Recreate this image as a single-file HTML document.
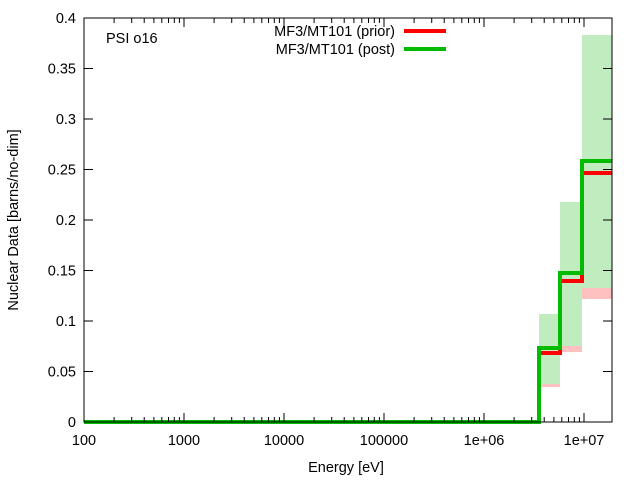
<!DOCTYPE html>
<html><head><style>body{margin:0;background:#fff}svg{display:block}text{font-family:"Liberation Sans",sans-serif;font-size:13px;fill:#000}.b{font-size:14.5px}</style></head><body>
<svg width="640" height="480" xmlns="http://www.w3.org/2000/svg">
<rect width="640" height="480" fill="#fff"/>
<rect x="539" y="340" width="21" height="47" fill="#ffc0c0"/>
<rect x="560" y="275" width="22" height="77" fill="#ffc0c0"/>
<rect x="582" y="170" width="30" height="129" fill="#ffc0c0"/>
<rect x="539" y="314" width="21" height="70" fill="#c0ecc0"/>
<rect x="560" y="202" width="22" height="144" fill="#c0ecc0"/>
<rect x="582" y="35" width="30" height="253" fill="#c0ecc0"/>
<polyline points="84,422 539,422 539,353 560,353 560,281 582,281 582,173 612,173" fill="none" stroke="#ff0000" stroke-width="4"/>
<polyline points="84,422 539,422 539,348 560,348 560,273 582,273 582,161 612,161" fill="none" stroke="#00bb00" stroke-width="4"/>
<rect x="84" y="18" width="528" height="404" fill="none" stroke="#000" stroke-width="1"/>
<g stroke="#000" stroke-width="1" id="ticks"></g>
<g id="labels"></g>
<text class="b" x="106" y="43">PSI o16</text>
<text class="b" x="395" y="36" text-anchor="end">MF3/MT101 (prior)</text>
<text class="b" x="395" y="54" text-anchor="end">MF3/MT101 (post)</text>
<line x1="404" y1="31" x2="446" y2="31" stroke="#ff0000" stroke-width="4"/>
<line x1="404" y1="49" x2="446" y2="49" stroke="#00bb00" stroke-width="4"/>
<text class="b" x="346" y="472" text-anchor="middle">Energy [eV]</text>
<text class="b" transform="translate(18,220) rotate(-90)" text-anchor="middle">Nuclear Data [barns/no-dim]</text>
<script>
var ns="http://www.w3.org/2000/svg",t=document.getElementById("ticks"),l=document.getElementById("labels");
function ln(a,b,c,d){var e=document.createElementNS(ns,"line");e.setAttribute("x1",a);e.setAttribute("y1",b);e.setAttribute("x2",c);e.setAttribute("y2",d);t.appendChild(e);}
function tx(x,y,s,anc){var e=document.createElementNS(ns,"text");e.setAttribute("x",x);e.setAttribute("y",y);e.setAttribute("text-anchor",anc);e.setAttribute("class","b");e.textContent=s;l.appendChild(e);}
var yl=["0","0.05","0.1","0.15","0.2","0.25","0.3","0.35","0.4"];
for(var i=0;i<9;i++){var y=422-i*50.5;ln(84,y,93,y);ln(612,y,603,y);tx(76,y+5,yl[i],"end");}
var xl=["100","1000","10000","100000","1e+06","1e+07"];
for(var d=0;d<6;d++){var x=84+d*100;ln(x,422,x,413);ln(x,18,x,27);tx(x,445,xl[d],"middle");
for(var m=2;m<10;m++){var xm=x+100*Math.log10(m);if(xm<612){ln(xm,422,xm,417);ln(xm,18,xm,23);}}}
</script>
</svg>
</body></html>
